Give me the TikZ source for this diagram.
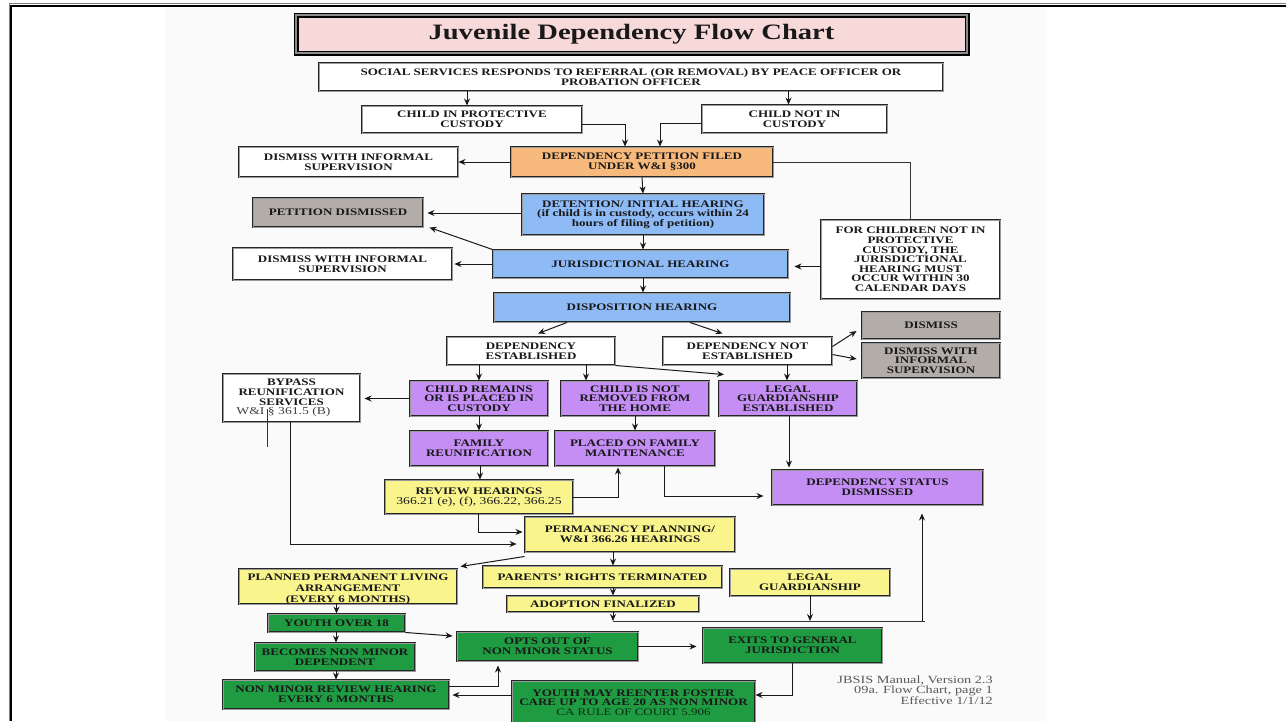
\documentclass[tikz,border=0pt]{standalone}
\usepackage{fontspec}
\setmainfont{Liberation Serif}[FakeStretch=1.3]
\usetikzlibrary{arrows.meta,calc}
\definecolor{cpink}{HTML}{F8D9D9}
\definecolor{corange}{HTML}{F8B97C}
\definecolor{cblue}{HTML}{8EBAF6}
\definecolor{cgray}{HTML}{B3ADA9}
\definecolor{cpurple}{HTML}{C48EF5}
\definecolor{cyellow}{HTML}{F9F58C}
\definecolor{cgreen}{HTML}{1F9B42}
\tikzset{
  bx/.style={draw=black!85, line width=0.95pt, double=black!40, double distance=1pt, inner sep=0pt, align=center, text=black!90, font=\fontsize{10}{9.6}\selectfont\bfseries},
  wbox/.style={bx, fill=white},
  obox/.style={bx, fill=corange},
  bbox/.style={bx, fill=cblue},
  gbox/.style={bx, fill=cgray},
  pbox/.style={bx, fill=cpurple},
  ybox/.style={bx, fill=cyellow},
  grbox/.style={bx, fill=cgreen},
  tbox/.style={draw=black, line width=1.9pt, double=black!45, double distance=1.2pt, fill=cpink, inner sep=0pt, text=black!90, font=\fontsize{22}{24}\selectfont\bfseries},
  arr/.style={draw=black!90, line width=1pt, -{Stealth[length=7pt,width=6pt]}},
  ln/.style={draw=black!80, line width=1pt},
  txt/.style={inner sep=0pt, align=center, font=\fontsize{10}{11}\selectfont\bfseries, text=black!90},
  foot/.style={inner sep=0pt, align=right, text=black!65, font=\fontsize{11}{10}\selectfont},
}
\newcommand\mybox[7]{%
  \pgfmathsetmacro\bxcx{(#3+#5)/2}\pgfmathsetmacro\bxcy{(#4+#6)/2}%
  \pgfmathsetmacro\bxw{#5-#3}\pgfmathsetmacro\bxh{#6-#4}%
  \node[#2, minimum width=\bxw pt, minimum height=\bxh pt] (#1) at (\bxcx,\bxcy) {#7};}
\begin{document}
\begin{tikzpicture}[x=1pt,y=-1pt]
\useasboundingbox (0,0) rectangle (1286,721);
\clip (0,0) rectangle (1286,721);
\fill[white] (0,0) rectangle (1286,721);
\fill[black!2] (165,8) rectangle (1046,721);
\draw[black!50, line width=1pt] (9,721) -- (9,3.5) -- (1286,3.5);
\draw[black, line width=2pt] (11,721) -- (11,5.5) -- (1286,5.5);

\mybox{title}{tbox}{296}{15}{967}{53}{Juvenile Dependency Flow Chart}
\mybox{soc}{wbox}{319}{63}{943}{91}{SOCIAL SERVICES RESPONDS TO REFERRAL (OR REMOVAL) BY PEACE OFFICER OR\\PROBATION OFFICER}
\mybox{cpc}{wbox}{362}{106}{582}{133}{CHILD IN PROTECTIVE\\CUSTODY}
\mybox{cnc}{wbox}{702}{105}{887}{133}{CHILD NOT IN\\CUSTODY}
\mybox{pet}{obox}{511}{147}{773}{177}{DEPENDENCY PETITION FILED\\UNDER W\&I §300}
\mybox{dis1}{wbox}{239}{147}{458}{177}{DISMISS WITH INFORMAL\\SUPERVISION}
\mybox{det}{bbox}{522}{194}{764}{235}{DETENTION/ INITIAL HEARING\\(if child is in custody, occurs within 24\\hours of filing of petition)}
\mybox{pd}{gbox}{253}{198}{423}{227}{PETITION DISMISSED}
\mybox{jur}{bbox}{493}{250}{788}{278}{JURISDICTIONAL HEARING}
\mybox{dis2}{wbox}{233}{248}{452}{280}{DISMISS WITH INFORMAL\\SUPERVISION}
\mybox{fc}{wbox}{821}{220}{1000}{299}{FOR CHILDREN NOT IN\\PROTECTIVE\\CUSTODY, THE\\JURISDICTIONAL\\HEARING MUST\\OCCUR WITHIN 30\\CALENDAR DAYS}
\mybox{disp}{bbox}{494}{293}{790}{322}{DISPOSITION HEARING}
\mybox{de}{wbox}{447}{337}{615}{365}{DEPENDENCY\\ESTABLISHED}
\mybox{dne}{wbox}{663}{337}{832}{365}{DEPENDENCY NOT\\ESTABLISHED}
\mybox{dism}{gbox}{862}{312}{1000}{339}{DISMISS}
\mybox{dwis}{gbox}{862}{343}{1000}{378}{DISMISS WITH\\INFORMAL\\SUPERVISION}
\mybox{cr}{pbox}{410}{381}{548}{416}{CHILD REMAINS\\OR IS PLACED IN\\CUSTODY}
\mybox{cnr}{pbox}{561}{381}{709}{416}{CHILD IS NOT\\REMOVED FROM\\THE HOME}
\mybox{lge}{pbox}{719}{381}{857}{416}{LEGAL\\GUARDIANSHIP\\ESTABLISHED}
\mybox{byp}{wbox}{223}{374}{360}{422}{BYPASS\\REUNIFICATION\\SERVICES\\{\mdseries\fontsize{10.5}{9.6}\selectfont\color{black!75}W\&I § 361.5 (B)}\hspace*{16pt}}
\mybox{fr}{pbox}{410}{431}{548}{466}{FAMILY\\REUNIFICATION}
\mybox{pfm}{pbox}{555}{431}{715}{466}{PLACED ON FAMILY\\MAINTENANCE}
\mybox{rev}{ybox}{385}{480}{573}{514}{REVIEW HEARINGS\\{\mdseries\fontsize{10.5}{9.6}\selectfont 366.21 (e), (f), 366.22, 366.25}}
\mybox{dsd}{pbox}{772}{470}{983}{505}{DEPENDENCY STATUS\\DISMISSED}
\mybox{perm}{ybox}{525}{517}{735}{552}{PERMANENCY PLANNING/\\W\&I 366.26 HEARINGS}
\mybox{ppla}{ybox}{239}{569}{457}{604}{}
\node[txt] (pplat) at (348,589) {PLANNED PERMANENT LIVING\\ARRANGEMENT\\(EVERY 6 MONTHS)};
\mybox{prt}{ybox}{483}{566}{722}{588}{PARENTS' RIGHTS TERMINATED}
\mybox{af}{ybox}{507}{596}{699}{612}{ADOPTION FINALIZED}
\mybox{lg}{ybox}{730}{569}{890}{596}{LEGAL\\GUARDIANSHIP}
\mybox{yo}{grbox}{268}{614}{405}{632}{YOUTH OVER 18}
\mybox{bn}{grbox}{255}{643}{415}{671}{BECOMES NON MINOR\\DEPENDENT}
\mybox{nm}{grbox}{223}{680}{449}{709}{NON MINOR REVIEW HEARING\\EVERY 6 MONTHS}
\mybox{oo}{grbox}{457}{632}{638}{661}{OPTS OUT OF\\NON MINOR STATUS}
\mybox{egj}{grbox}{703}{628}{882}{663}{EXITS TO GENERAL\\JURISDICTION}
\mybox{ymr}{grbox}{512}{681}{755}{724}{YOUTH MAY REENTER FOSTER\\CARE UP TO AGE 20 AS NON MINOR\\{\mdseries\color{black!70!cgreen}CA RULE OF COURT 5.906}}
\node[foot, anchor=east] (foot) at (993,690) {JBSIS Manual, Version 2.3\\09a. Flow Chart, page 1\\Effective 1/1/12};

% connectors
\draw[arr] ([xshift=-5pt]cpc.north |- soc.south) -- ([xshift=-5pt]cpc.north);
\draw[arr] ([xshift=-6pt]cnc.north |- soc.south) -- ([xshift=-6pt]cnc.north);
\draw[arr] ([yshift=-5pt]cpc.east) -| ([xshift=-17pt]pet.north);
\draw[arr] ([yshift=-4pt]cnc.west) -| ([xshift=18pt]pet.north);
\draw[arr] (pet.west) -- (dis1.east);
\draw[ln] (pet.east) -| (fc.north);
\draw[arr] (pet.south) -- (det.north);
\draw[arr, shorten >=4pt] ([yshift=1.5pt]det.west) -- ([yshift=1.5pt]det.west -| pd.east);
\draw[arr] (det.south) -- (det.south |- jur.north);
\draw[arr] (jur.north west) -- ([xshift=6pt]pd.south east);
\draw[arr, shorten >=2pt] (jur.west) -- (dis2.east);
\draw[arr, shorten >=6pt] ([yshift=-7pt]fc.west) -- ([yshift=-7pt]fc.west -| jur.east);
\draw[arr] ([xshift=2.5pt]jur.south) -- ([xshift=2.5pt]jur.south |- disp.north);
\draw[arr] ([xshift=-75pt]disp.south) -- ([xshift=7pt,yshift=3pt]de.north);
\draw[arr] ([xshift=48pt]disp.south) -- ([xshift=-25pt,yshift=3pt]dne.north);
\draw[arr] ([yshift=-10pt]dne.north east) -- ([xshift=-5pt,yshift=-5.5pt]dism.west);
\draw[arr] ([yshift=-18pt]dne.north east) -- ([xshift=-5pt,yshift=1.5pt]dwis.west);
\draw[arr] (cr.north |- de.south) -- (cr.north);
\draw[arr] ([xshift=-49pt]cnr.north |- de.south) -- ([xshift=-49pt]cnr.north);
\draw[arr] (de.south east) -- ([xshift=-64pt,yshift=6pt]lge.north);
\draw[arr] ([xshift=-1pt]lge.north |- dne.south) -- ([xshift=-1pt]lge.north);
\draw[arr, shorten >=4pt] (cr.west) -- (cr.west -| byp.east);
\draw[ln, line width=0.8pt] ([xshift=-24.5pt,yshift=-11pt]byp.center) -- ++(0,38);
\draw[arr, shorten >=8pt] ([xshift=-1.5pt]byp.south) |- ([yshift=-9.5pt]perm.west);
\draw[arr] (cr.south) -- (cr.south |- fr.north);
\draw[arr] (cnr.south) -- (cnr.south |- pfm.north);
\draw[arr] ([xshift=1pt]fr.south) -- ([xshift=1pt]fr.south |- rev.north);
\draw[arr, shorten >=1pt] (rev.east) -| ([xshift=-17pt]pfm.south);
\draw[arr, shorten >=8pt] ([xshift=29pt]pfm.south) |- ([yshift=-8.5pt]dsd.west);
\draw[arr, shorten >=2pt] ([xshift=1pt]lge.south) -- ([xshift=1pt]lge.south |- dsd.north);
\draw[arr, shorten >=2pt] ([xshift=-1pt]rev.south) |- ([yshift=2.5pt]perm.west);
\draw[arr] ([yshift=-4pt]perm.south west) -- ([xshift=3pt,yshift=2pt]ppla.north east);
\draw[arr] ([xshift=-17pt]perm.south) -- ([xshift=-17pt]perm.south |- prt.north);
\draw[arr] ([xshift=10.5pt]prt.south) -- ([xshift=10.5pt]prt.south |- af.north);
\coordinate (mL) at (613,621);
\coordinate (mR) at (922,621);
\draw[arr] ([xshift=10pt]af.south) -- (mL);
\draw[ln] (mL) -- ([xshift=3pt]mR);
\draw[arr, shorten >=8pt] (mR) -- (mR |- dsd.south);
\draw[arr] (lg.south) -- (lg.south |- mL);
\draw[arr] (yo.north |- ppla.south) -- (yo.north);
\draw[arr] ([xshift=1pt]bn.north |- yo.south) -- ([xshift=1pt]bn.north);
\draw[arr] (nm.north |- bn.south) -- (nm.north);
\draw[arr] (yo.south east) -- ([xshift=-4pt,yshift=10.5pt]oo.west);
\draw[arr, shorten >=4pt] ([yshift=8.5pt]nm.east) -| ([xshift=-49.5pt]oo.south);
\draw[arr, shorten >=6pt] (oo.east) -- (oo.east -| egj.west);
\draw[arr] (egj.south) |- ([yshift=7.5pt]ymr.east);
\draw[arr, shorten >=3pt] ([yshift=7.5pt]ymr.west) -- ([yshift=7.5pt]ymr.west -| nm.east);
\end{tikzpicture}
\end{document}
